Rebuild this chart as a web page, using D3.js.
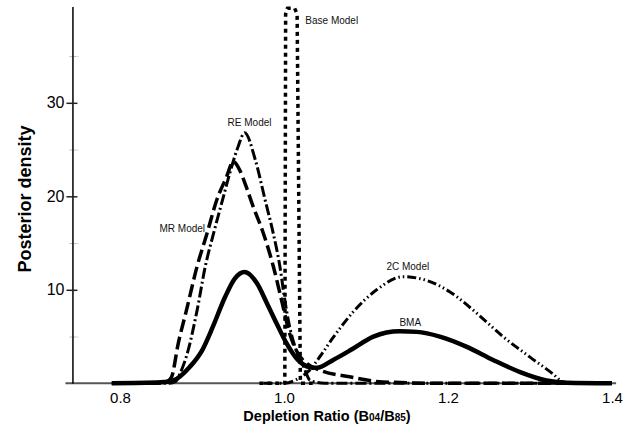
<!DOCTYPE html>
<html>
<head>
<meta charset="utf-8">
<script src="https://cdn.jsdelivr.net/npm/d3@7"></script>
<style>
  body { margin: 0; background: #fff; }
  svg { font-family: "Liberation Sans", Arial, sans-serif; }
</style>
</head>
<body>
<svg id="chart" width="633" height="433"></svg>
<script>
// posterior density curves
let bmaX = [0.79, 0.85, 0.865, 0.885, 0.90, 0.913, 0.928, 0.940, 0.952, 0.967, 0.979, 0.991, 1.003, 1.017, 1.030, 1.040, 1.060, 1.084, 1.109, 1.141, 1.162, 1.190, 1.223, 1.255, 1.288, 1.320, 1.345, 1.40];
let bmaY = [0, 0.1, 0.3, 1.75, 3.5, 6.0, 9.2, 11.2, 11.9, 10.7, 8.6, 6.4, 4.3, 2.5, 1.75, 1.65, 2.5, 3.7, 5.0, 5.57, 5.5, 5.0, 3.9, 2.5, 1.2, 0.3, 0.05, 0];

let mrX = [0.79, 0.85, 0.858, 0.863, 0.871, 0.881, 0.894, 0.906, 0.918, 0.930, 0.938, 0.946, 0.954, 0.962, 0.975, 0.987, 0.997, 1.007, 1.017, 1.028, 1.044, 1.080, 1.120, 1.20, 1.40];
let mrY = [0, 0.05, 0.2, 0.7, 4.25, 7.8, 12.5, 16, 19.6, 22.1, 23.7, 22.8, 21, 19.0, 16, 12.5, 8.9, 5.3, 3.2, 2.1, 1.4, 0.7, 0.15, 0, 0];

let reX = [0.79, 0.86, 0.868, 0.873, 0.883, 0.894, 0.904, 0.914, 0.925, 0.934, 0.944, 0.952, 0.965, 0.977, 0.987, 0.995, 1.001, 1.007, 1.015, 1.024, 1.032, 1.05, 1.40];
let reY = [0, 0, 0.2, 1.0, 3.5, 7.8, 12.5, 16, 19.6, 22.5, 25.3, 26.8, 23.9, 19.6, 16, 12.5, 8.9, 6.0, 3.5, 1.75, 0.3, 0, 0];

let baseX = [0.97, 1.001, 1.002, 1.004, 1.013, 1.016, 1.020, 1.035];
let baseY = [0, 0, 39.5, 40.1, 40.1, 39.5, 0, 0];

let twoCX = [0.975, 1.0, 1.015, 1.030, 1.045, 1.060, 1.084, 1.113, 1.145, 1.174, 1.202, 1.235, 1.267, 1.300, 1.328, 1.340, 1.350];
let twoCY = [0, 0, 0.4, 1.3, 3.0, 4.9, 7.6, 10, 11.4, 11, 9.8, 7.5, 5, 2.8, 1.0, 0.15, 0];

let xTicks = [0.8, 1.0, 1.2, 1.4];
let yTicks = [10, 20, 30];
let yMinorTicks = [5, 15, 25, 35];

// curve labels: [text, x, density]
let labels = [
  ['Base Model', 1.026, 38.4, 'start'],
  ['RE Model', 0.958, 27.5, 'middle'],
  ['MR Model', 0.876, 16.2, 'middle'],
  ['2C Model', 1.151, 12.1, 'middle'],
  ['BMA', 1.154, 6.1, 'middle']
];

let svg = d3.select('#chart');

let x = d3.scaleLinear().domain([0.8, 1.4]).range([120, 612]);
let y = d3.scaleLinear().domain([0, 40.3]).range([383.3, 6.5]);
let axisX = x(0.742);

function pairs(xs, ys) {
  return xs.map(function(d, i) { return [d, ys[i]]; });
}

// x axis
svg.append('line')
  .attr('x1', axisX - 7)
  .attr('x2', x(1.405))
  .attr('y1', y(0))
  .attr('y2', y(0))
  .attr('stroke', '#555')
  .attr('stroke-width', 2);

let gx = svg.append('g')
  .attr('transform', 'translate(0,' + y(0) + ')')
  .call(d3.axisBottom(x).tickValues(xTicks).tickSize(0).tickPadding(9).tickFormat(d3.format('.1f')));
gx.select('.domain').remove();
gx.selectAll('text')
  .attr('font-size', 15)
  .attr('font-family', '"Liberation Sans", Arial, sans-serif')
  .attr('fill', '#000');

// y axis, minor ticks first
let gMinor = svg.append('g')
  .attr('transform', 'translate(' + axisX + ',0)')
  .call(d3.axisLeft(y).tickValues(yMinorTicks).tickFormat(''));
gMinor.select('.domain').remove();
gMinor.selectAll('.tick line')
  .attr('x1', -3)
  .attr('x2', 6)
  .attr('stroke', '#bbb')
  .attr('stroke-dasharray', '3,1');

let gy = svg.append('g')
  .attr('transform', 'translate(' + axisX + ',0)')
  .call(d3.axisLeft(y).tickValues(yTicks).tickSizeOuter(0).tickSizeInner(6).tickPadding(2));
gy.select('.domain')
  .attr('stroke', '#000')
  .attr('stroke-width', 1.5);
gy.selectAll('.tick line')
  .attr('x1', 5)
  .attr('x2', -6)
  .attr('stroke', '#222')
  .attr('stroke-width', 1.5);
gy.selectAll('text')
  .attr('font-size', 16)
  .attr('font-family', '"Liberation Sans", Arial, sans-serif')
  .attr('fill', '#000');

// axis titles
svg.append('text')
  .attr('transform', 'translate(31,199) rotate(-90)')
  .attr('text-anchor', 'middle')
  .attr('font-size', 18)
  .attr('font-weight', 'bold')
  .text('Posterior density');

let xt = svg.append('text')
  .attr('x', 327)
  .attr('y', 421)
  .attr('text-anchor', 'middle')
  .attr('font-size', 14.5)
  .attr('font-weight', 'bold');
xt.append('tspan').text('Depletion Ratio (B');
xt.append('tspan').attr('font-size', 10).text('04');
xt.append('tspan').text('/B');
xt.append('tspan').attr('font-size', 10).text('85');
xt.append('tspan').text(')');

// curves
let line = d3.line()
  .x(function(d) { return x(d[0]); })
  .y(function(d) { return y(d[1]); })
  .curve(d3.curveMonotoneX);

let lineStraight = d3.line()
  .x(function(d) { return x(d[0]); })
  .y(function(d) { return y(d[1]); });

let series = [
  { pts: pairs(twoCX, twoCY), dash: '9,3,1.5,3,1.5,3', width: 3, gen: line },
  { pts: pairs(baseX, baseY), dash: '4,4', width: 3.5, gen: lineStraight },
  { pts: pairs(reX, reY), dash: '11,3,2,3', width: 3, gen: line },
  { pts: pairs(mrX, mrY), dash: '13,5', width: 3.5, gen: line },
  { pts: pairs(bmaX, bmaY), dash: null, width: 4.5, gen: line }
];

series.forEach(function(s) {
  svg.append('path')
    .attr('d', s.gen(s.pts))
    .attr('fill', 'none')
    .attr('stroke', '#000')
    .attr('stroke-width', s.width)
    .attr('stroke-dasharray', s.dash)
    .attr('stroke-linejoin', 'round');
});

labels.forEach(function(l) {
  svg.append('text')
    .attr('x', x(l[1]))
    .attr('y', y(l[2]))
    .attr('text-anchor', l[3])
    .attr('font-size', 10)
    .attr('fill', '#111')
    .text(l[0]);
});
</script>
</body>
</html>
